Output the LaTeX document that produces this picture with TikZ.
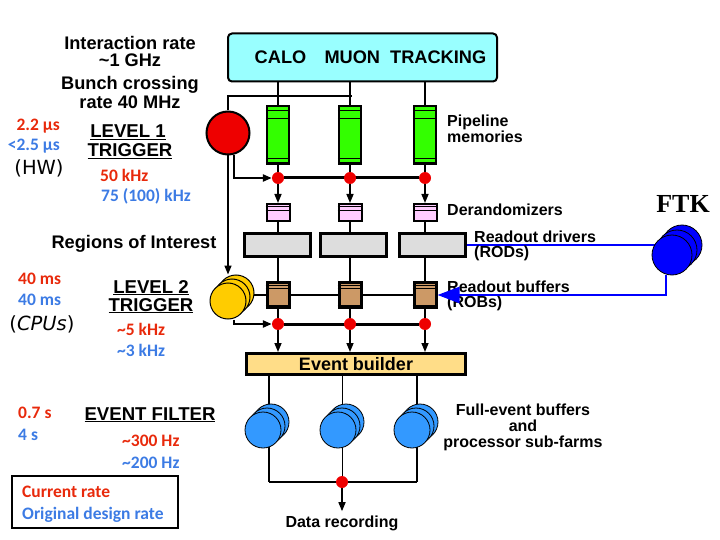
\documentclass[tikz,border=0pt]{standalone}
\usepackage{fontspec}
\setmainfont{Liberation Sans}
\newfontfamily\calfont{Carlito}
\newfontfamily\ftkfont{Liberation Serif}
\newfontfamily\handfont{DejaVu Sans}
\usetikzlibrary{arrows.meta}
\pgfdeclarelayer{background}
\pgfsetlayers{background,main}

\definecolor{detcyan}{HTML}{99FFFF}
\definecolor{pipegreen}{HTML}{33FF00}
\definecolor{derpink}{HTML}{FFCCFF}
\definecolor{rodgray}{HTML}{DDDDDD}
\definecolor{robtan}{HTML}{CC9966}
\definecolor{l2yellow}{HTML}{FFCC00}
\definecolor{farmblue}{HTML}{3399FF}
\definecolor{ftkblue}{HTML}{0000FF}
\definecolor{l1red}{HTML}{EE0000}
\definecolor{ebfill}{HTML}{FFDD88}
\definecolor{currred}{HTML}{E8290B}
\definecolor{origblue}{HTML}{3C7BE4}

\begin{document}
\begin{tikzpicture}[x=1pt,y=-1pt,
  lab/.style={font=\bfseries\fontsize{18.2}{20}\selectfont, inner sep=0, anchor=base},
  trig/.style={font=\bfseries\fontsize{18.6}{20}\selectfont, inner sep=0, anchor=base},
  side/.style={font=\bfseries\fontsize{16}{18}\selectfont, inner sep=0, anchor=base west},
  cur/.style={font=\calfont\bfseries\fontsize{17.5}{19}\selectfont, text=currred, inner sep=0, anchor=base west},
  orig/.style={cur, text=origblue},
  hand/.style={font=\handfont\fontsize{19.5}{21}\selectfont, inner sep=0, anchor=base},
  box/.style={draw, inner sep=0, line width=2.5pt},
  detbox/.style={box, line width=2pt, rounded corners=4pt, fill=detcyan, minimum width=269pt, minimum height=48pt, font=\bfseries\fontsize{18.2}{20}\selectfont},
  pipe/.style={box, fill=pipegreen, minimum width=22pt, minimum height=57.5pt},
  derand/.style={box, line width=2pt, fill=derpink, minimum width=23pt, minimum height=17pt},
  rod/.style={box, line width=3pt, fill=rodgray, minimum width=66pt, minimum height=23pt},
  rob/.style={box, line width=3pt, fill=robtan, minimum width=22pt, minimum height=25pt},
  ebbox/.style={box, line width=3pt, fill=ebfill, minimum width=219pt, minimum height=21pt, font=\bfseries\fontsize{18}{20}\selectfont},
  stripe/.style={line width=1pt},
  dot/.style={circle, fill=l1red, minimum size=12pt, inner sep=0},
  l2c/.style={circle, draw, line width=1pt, fill=l2yellow, minimum size=36pt, inner sep=0},
  farmc/.style={circle, draw, line width=0.8pt, fill=farmblue, minimum size=36pt, inner sep=0},
  ftkc/.style={circle, draw, line width=0.8pt, fill=ftkblue, minimum size=40pt, inner sep=0},
  conn/.style={line width=1.5pt},
  bus/.style={line width=3pt},
  arr/.style={line width=1.5pt, -{Triangle[length=9pt,width=7pt]}},
  ftkline/.style={line width=2pt, ftkblue},
  ftkarr/.style={line width=2.5pt, ftkblue, -{Triangle[length=22pt,width=16pt]}}]
\useasboundingbox (0,0) rectangle (720,540);

% detector and level 1
\node[detbox] (det) at (362.5,57.5) {\hspace*{16pt}CALO\quad MUON\ \ TRACKING};
\node[circle, draw, line width=2pt, fill=l1red, minimum size=43pt, inner sep=0] (l1) at (228,133) {};
\coordinate (tap) at (352,96);

% readout columns
\foreach \c/\x/\rx in {1/278/277.5,2/350/353.5,3/425/432.5}{
  \node[pipe] (pipe\c) at (\x,135) {};
  \draw[stripe] ([yshift=-6pt]pipe\c.north west) -- ([yshift=-6pt]pipe\c.north east)
                ([yshift=-14pt]pipe\c.north west) -- ([yshift=-14pt]pipe\c.north east)
                ([yshift=6pt]pipe\c.south west) -- ([yshift=6pt]pipe\c.south east);
  \node[dot] (da\c) at (\x,178) {};
  \node[derand] (der\c) at (\x,212.5) {};
  \draw[stripe] ([yshift=-3.5pt]der\c.north west) -- ([yshift=-3.5pt]der\c.north east)
                ([yshift=-8pt]der\c.north west) -- ([yshift=-8pt]der\c.north east);
  \node[rod] (rod\c) at (\rx,245) {};
  \node[rob] (rob\c) at (\x,295) {};
  \draw[stripe] ([yshift=-4pt]rob\c.north west) -- ([yshift=-4pt]rob\c.north east)
                ([yshift=-7pt]rob\c.north west) -- ([yshift=-7pt]rob\c.north east)
                ([yshift=4pt]rob\c.south west) -- ([yshift=4pt]rob\c.south east);
  \node[dot] (db\c) at (\x,324) {};
}

% level 2 processors
\foreach \o in {8,4,0}
  \node[l2c] (l2-\o) at ({228+\o},{301-\o}) {};

\node[ebbox] (eb) at (356,364) {Event builder};

% event filter farms
\foreach \c/\x/\f in {1/269/263,2/342/338,3/417/412}{
  \coordinate (bot\c) at (\x,482);
  \foreach \o in {8,4,0}
    \node[farmc] (farm\c-\o) at ({\f+\o},{430-\o}) {};
}
\node[dot] (rec) at (342,482) {};

% FTK
\foreach \o in {10,5,0}
  \node[ftkc] (ftk-\o) at ({672+\o},{255-\o}) {};

\begin{pgfonlayer}{background}
\draw[conn] (l1.north) |- (tap);
\draw[arr] (l1.south) -- (l1.south |- l2-8.north);
\draw[arr, line width=2.5pt] ([xshift=6pt]l1.south) |- (da1.west);
\draw[bus] (da1) -- (da3);
\draw[conn] (l2-8 |- rob1) -- (rob3);
\draw[arr, line width=2.5pt] ([xshift=6pt]l2-0.south) |- (db1.west);
\draw[bus] (db1) -- (db3);
\foreach \c in {1,2,3}{
  \draw[conn] (pipe\c |- det.south) -- (pipe\c.north);
  \draw[conn] (pipe\c.south) -- (da\c);
  \draw[arr] (da\c) -- (der\c.north);
  \draw[conn] (der\c.south) -- (rob\c.north);
  \draw[conn] (rob\c.south) -- (db\c);
  \draw[arr] (db\c) -- (db\c |- eb.north);
}
\foreach \c/\w in {1/1.5,2/0.8,3/1.5}
  \draw[line width=\w pt] (eb.south -| bot\c) -- (bot\c);
\draw[conn] (bot1) -- (bot3);
\draw[ftkline] (rod3.east) -- (rod3.east -| ftk-0);
\end{pgfonlayer}

% left labels
\node[lab] (irate) at (130,49.5) {Interaction rate};
\node[lab] (ghz) at (130,67) {\textasciitilde 1 GHz};
\node[lab] (bunch) at (130,90) {Bunch crossing};
\node[lab] (mhz) at (130,109) {rate 40 MHz};
\node[cur, anchor=base east] (t1a) at (60,131) {2.2 μs};
\node[orig, anchor=base east] (t1b) at (60,151) {<2.5 μs};
\node[hand] (hw) at (39,175) {(HW)};
\node[trig] (lv1) at (128,138) {\underline{LEVEL 1}};
\node[trig] (tr1) at (130,157) {\underline{TRIGGER}};
\node[cur] (r1a) at (100,182) {50 kHz};
\node[orig] (r1b) at (101,202) {75 (100) kHz};
\node[lab] (roi) at (134,248) {Regions of Interest};
\node[cur] (t2a) at (18,284) {40 ms};
\node[orig] (t2b) at (18,305) {40 ms};
\node[hand] (cpu) at (42,330) {(\textit{CPUs})};
\node[trig] (lv2) at (151,293) {\underline{LEVEL 2}};
\node[trig] (tr2) at (151,311) {\underline{TRIGGER}};
\node[cur] (r2a) at (117,335) {\textasciitilde 5 kHz};
\node[orig] (r2b) at (117,356) {\textasciitilde 3 kHz};
\node[cur] (t3a) at (18,418) {0.7 s};
\node[orig] (t3b) at (18,440) {4 s};
\node[trig] (ef) at (150,420) {\underline{EVENT FILTER}};
\node[cur] (r3a) at (122,446) {\textasciitilde 300 Hz};
\node[orig] (r3b) at (122,468) {\textasciitilde 200 Hz};
\node[draw, line width=1.2pt, minimum width=166pt, minimum height=52pt, inner sep=0] (legend) at (95,502) {};
\node[cur] (lcur) at (22,497) {Current rate};
\node[orig] (lorig) at (22,519) {Original design rate};

% right labels
\node[side] (pipel) at (447,127) {Pipeline};
\node[side] (meml) at (447,143) {memories};
\node[side] (derl) at (447,215) {Derandomizers};
\node[side] (rodl) at (474,242) {Readout drivers};
\node[side] (rodl2) at (474,257) {(RODs)};
\node[side] (robl) at (447,292) {Readout buffers};
\node[side] (robl2) at (447,307) {(ROBs)};
\node[font=\ftkfont\bfseries\fontsize{26}{28}\selectfont, inner sep=0, anchor=base] (ftkl) at (683,212) {FTK};
\node[side, anchor=base] (feb) at (523,415) {Full-event buffers};
\node[side, anchor=base] (fand) at (523,431) {and};
\node[side, anchor=base] (fsub) at (523,447) {processor sub-farms};
\node[side, anchor=base] (datarec) at (342,527) {Data recording};

\draw[arr] (rec) -- ([yshift=4pt]datarec.north);
\draw[ftkarr] ([xshift=-6pt]ftk-0.south) |- (rob3.east);
\end{tikzpicture}
\end{document}
